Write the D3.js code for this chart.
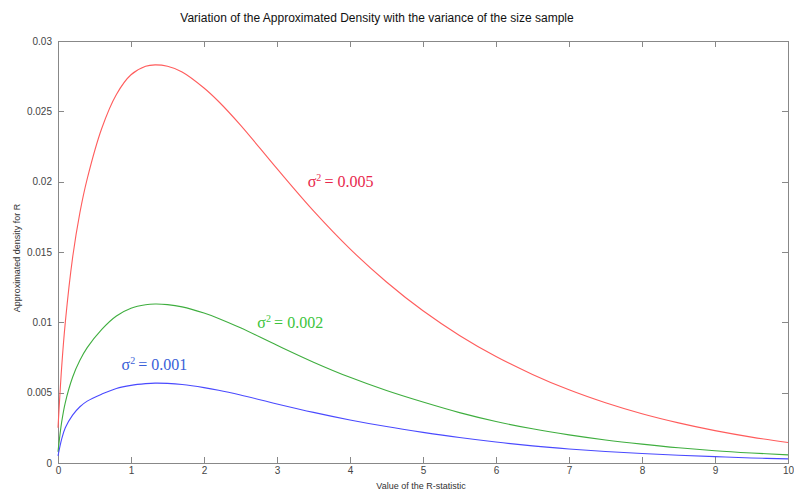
<!DOCTYPE html>
<meta charset="utf-8">
<style>
body { margin: 0; background: #fff; }
svg { display: block; background: #fff; }
.axis text { font: 10px "Liberation Sans", Arial, sans-serif; fill: #444; }
.axis line, .axis path { stroke: #888; shape-rendering: crispEdges; }
.curve { fill: none; stroke-width: 1.1px; }
.title { font: 12px "Liberation Sans", Arial, sans-serif; fill: #111; }
.axlabel { font: 9px "Liberation Sans", Arial, sans-serif; fill: #333; }
.lbl { font: 16px "Liberation Serif", "Times New Roman", serif; }
</style>
<body>
<div id="chart"></div>
<script src="https://cdn.jsdelivr.net/npm/d3@7"></script>
<script>
// R-statistic values where the curves were read
var rValues = [0, 0.05, 0.1, 0.2, 0.3, 0.4, 0.6, 0.8, 1.0, 1.2, 1.33, 1.5, 1.7, 2.0, 2.2, 2.5,
  3.0, 3.5, 4.0, 4.5, 5.0, 5.5, 6.0, 6.5, 7.0, 7.5, 8.0, 8.5, 9.0, 9.5, 10];

// approximated density, one array per variance
var density005 = [0.0025, 0.0068, 0.0100, 0.0146, 0.0178, 0.0202, 0.0238, 0.0262, 0.0276, 0.0282,
  0.0283, 0.0282, 0.0278, 0.02666, 0.0257, 0.02402, 0.02092, 0.01792, 0.01522, 0.01287, 0.01082,
  0.00907, 0.00757, 0.0063, 0.0052, 0.00428, 0.0035, 0.00285, 0.0023, 0.00184, 0.00146];
var density002 = [0.0008, 0.0029, 0.0043, 0.0061, 0.0073, 0.0082, 0.0095, 0.01045, 0.0110, 0.01125,
  0.0113, 0.01126, 0.0111, 0.01066, 0.01028, 0.00961, 0.00837, 0.00717, 0.00609, 0.00515, 0.00433,
  0.00358, 0.00295, 0.00243, 0.002, 0.00164, 0.00134, 0.00108, 0.00087, 0.00071, 0.00058];
var density001 = [0.0005, 0.0017, 0.0025, 0.0034, 0.0040, 0.0044, 0.0049, 0.0053, 0.00552, 0.00564,
  0.00568, 0.00566, 0.00558, 0.00536, 0.00517, 0.00483, 0.0042, 0.0036, 0.00306, 0.00259, 0.00218,
  0.00181, 0.00149, 0.00122, 0.001, 0.00082, 0.00067, 0.00055, 0.00045, 0.00036, 0.00029];

var xTicks = [0, 1, 2, 3, 4, 5, 6, 7, 8, 9, 10];
var yTicks = [0, 0.005, 0.01, 0.015, 0.02, 0.025, 0.03];
var yTickLabels = ["0", "0.005", "0.01", "0.015", "0.02", "0.025", "0.03"];

var series = [
  {values: density005, line: "#ff5c5c", text: "#e8284c", label: "0.005", lx: 3.42, ly: 0.0196},
  {values: density002, line: "#3fae3f", text: "#3cc43c", label: "0.002", lx: 2.73, ly: 0.0096},
  {values: density001, line: "#4a4aff", text: "#3a5fd8", label: "0.001", lx: 0.87, ly: 0.0066}
];

var W = 794, H = 496;
var margin = {top: 41, right: 6, bottom: 33, left: 58};
var width = W - margin.left - margin.right,
    height = H - margin.top - margin.bottom;

var svg = d3.select("#chart").append("svg")
  .attr("width", W).attr("height", H);

var g = svg.append("g")
  .attr("transform", "translate(" + margin.left + "," + margin.top + ")");

var x = d3.scaleLinear().domain([0, 10]).range([0, width]);
var y = d3.scaleLinear().domain([0, 0.03]).range([height, 0]);

// box with ticks on all four sides, pointing inward
g.append("g").attr("class", "axis")
  .attr("transform", "translate(0," + height + ")")
  .call(d3.axisBottom(x).tickValues(xTicks).tickSizeInner(-6).tickSizeOuter(0).tickPadding(4));
g.append("g").attr("class", "axis")
  .call(d3.axisTop(x).tickValues(xTicks).tickSizeInner(-6).tickSizeOuter(0).tickFormat(""));
g.append("g").attr("class", "axis")
  .call(d3.axisLeft(y).tickValues(yTicks).tickSizeInner(-6).tickSizeOuter(0).tickPadding(6)
    .tickFormat(function(d, i) { return yTickLabels[i]; }));
g.append("g").attr("class", "axis")
  .attr("transform", "translate(" + width + ",0)")
  .call(d3.axisRight(y).tickValues(yTicks).tickSizeInner(-6).tickSizeOuter(0).tickFormat(""));
g.selectAll(".axis path").style("stroke-width", "1.5px");

var line = d3.line()
  .x(function(d) { return x(d[0]); })
  .y(function(d) { return y(d[1]); })
  .curve(d3.curveCatmullRom.alpha(0.5));

series.forEach(function(s) {
  var pts = rValues.map(function(r, i) { return [r, s.values[i]]; });
  g.append("path").attr("class", "curve")
    .attr("d", line(pts))
    .attr("stroke", s.line);

  var t = g.append("text").attr("class", "lbl")
    .attr("x", x(s.lx)).attr("y", y(s.ly))
    .attr("fill", s.text);
  t.append("tspan").text("\u03c3");
  t.append("tspan").attr("dy", -6).style("font-size", "10px").text("2");
  t.append("tspan").attr("dy", 6).text("\u2009= " + s.label);
});

svg.append("text").attr("class", "title")
  .attr("x", 377).attr("y", 22)
  .attr("text-anchor", "middle")
  .text("Variation of the Approximated Density with the variance of the size sample");

svg.append("text").attr("class", "axlabel")
  .attr("x", margin.left + width / 2 - 2).attr("y", 489)
  .attr("text-anchor", "middle")
  .text("Value of the R-statistic");

svg.append("text").attr("class", "axlabel")
  .attr("transform", "translate(20," + (margin.top + height / 2 + 6) + ") rotate(-90)")
  .attr("text-anchor", "middle")
  .text("Approximated density for R");
</script>
